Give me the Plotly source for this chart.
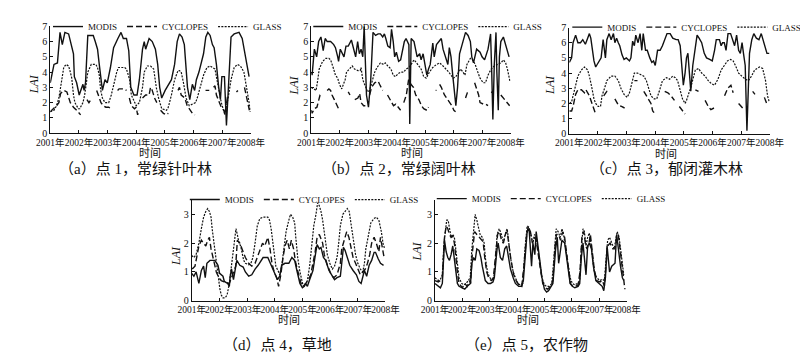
import plotly.graph_objects as go

GAP = (None, None)

YEARS = [2001, 2002, 2003, 2004, 2005, 2006, 2007, 2008]
YEAR_LABELS = ["2001年", "2002年", "2003年", "2004年", "2005年", "2006年", "2007年", "2008年"]
SERIES_NAMES = ["MODIS", "CYCLOPES", "GLASS"]
X_TITLE = "时间"
Y_TITLE = "<i>LAI</i>"
CAPTIONS = ["（a）点 1，常绿针叶林", "（b）点 2，常绿阔叶林", "（c）点 3，郁闭灌木林",
            "（d）点 4，草地", "（e）点 5，农作物"]

# ---------------- panel (a) ----------------
A_MODIS = [(2001.00, 3.3), (2001.08, 4.0), (2001.13, 4.5), (2001.25, 4.6), (2001.34, 6.6), (2001.42, 5.8),
           (2001.51, 6.6), (2001.64, 6.5), (2001.70, 6.0), (2001.81, 5.2), (2001.84, 3.7), (2001.92, 3.3),
           (2002.01, 2.5), (2002.09, 3.0), (2002.14, 3.2), (2002.18, 2.8), (2002.23, 3.3), (2002.31, 6.4),
           (2002.50, 6.4), (2002.57, 6.0), (2002.65, 5.5), (2002.71, 4.5), (2002.76, 3.5), (2002.82, 2.8),
           (2002.91, 3.5), (2002.99, 3.3), (2003.10, 4.3), (2003.21, 5.6), (2003.36, 6.2), (2003.47, 6.6),
           (2003.55, 6.2), (2003.66, 6.2), (2003.74, 5.4), (2003.81, 3.0), (2003.92, 2.5), (2004.03, 2.5),
           (2004.11, 3.5), (2004.22, 5.5), (2004.28, 6.0), (2004.33, 5.5), (2004.45, 6.2), (2004.56, 6.0),
           (2004.67, 5.5), (2004.75, 4.5), (2004.82, 3.0), (2004.89, 2.3), (2005.01, 2.8), (2005.12, 3.2),
           (2005.23, 3.5), (2005.34, 4.5), (2005.43, 6.0), (2005.51, 6.5), (2005.60, 6.3), (2005.68, 5.8),
           (2005.74, 4.5), (2005.79, 3.0), (2005.87, 2.2), (2005.96, 3.2), (2006.04, 2.8), (2006.10, 3.5),
           (2006.19, 4.0), (2006.27, 4.6), (2006.35, 5.2), (2006.43, 6.3), (2006.50, 6.6), (2006.58, 6.4),
           (2006.66, 5.8), (2006.72, 5.6), (2006.80, 4.5), (2006.88, 3.0), (2006.94, 2.2), (2006.99, 3.7),
           (2007.08, 3.7), (2007.15, 0.5), (2007.20, 2.3), (2007.25, 5.0), (2007.31, 6.3), (2007.42, 6.5),
           (2007.53, 6.6), (2007.59, 6.6), (2007.70, 6.2), (2007.76, 5.5), (2007.87, 4.5), (2007.94, 3.7)]
A_CYCLOPES = [(2001.00, 1.4), (2001.13, 1.6), (2001.22, 1.8), (2001.30, 2.0), (2001.36, 2.6), (2001.47, 2.8),
              (2001.58, 2.7), (2001.70, 2.0), (2001.81, 1.7), (2001.92, 1.5), (2002.01, 1.3), (2002.06, 1.2), GAP,
              (2002.28, 2.2), (2002.35, 2.0), (2002.42, 2.2), GAP,
              (2002.62, 2.8), (2002.70, 2.4), (2002.77, 2.0), (2002.85, 1.8), (2002.94, 1.7), (2003.04, 1.7),
              (2003.12, 1.6), GAP,
              (2003.35, 2.8), (2003.40, 2.9), (2003.50, 2.9), (2003.60, 2.9), (2003.66, 2.8), GAP,
              (2003.76, 2.3), (2003.83, 1.8), (2003.94, 1.6), (2004.00, 1.7), (2004.05, 1.2), (2004.10, 1.5), GAP,
              (2004.22, 2.3), (2004.33, 2.5), (2004.45, 2.5), (2004.50, 3.0), (2004.56, 2.8), (2004.64, 2.3),
              (2004.72, 2.0), GAP,
              (2004.85, 1.5), (2004.95, 1.3), (2005.05, 1.2), (2005.12, 1.3), GAP,
              (2005.46, 2.8), (2005.51, 3.0), (2005.57, 2.5), (2005.70, 2.3), (2005.78, 1.8), (2005.88, 1.5),
              (2005.96, 1.3), (2006.05, 1.2), GAP,
              (2006.42, 2.8), (2006.55, 2.8), GAP,
              (2006.70, 3.0), (2006.75, 3.1), (2006.80, 2.5), (2006.90, 2.0), (2006.97, 1.7), (2007.06, 1.5),
              (2007.10, 1.2), (2007.18, 2.3), (2007.25, 2.2), GAP,
              (2007.50, 2.7), (2007.55, 2.8), GAP,
              (2007.78, 3.0), (2007.84, 2.5), (2007.90, 2.0), (2007.95, 1.5)]
A_GLASS = [(2001.00, 1.4), (2001.13, 1.5), (2001.22, 1.8), (2001.30, 2.3), (2001.36, 3.0), (2001.42, 3.8),
           (2001.47, 4.3), (2001.55, 4.5), (2001.64, 4.4), (2001.70, 4.0), (2001.75, 3.6), (2001.81, 2.5),
           (2001.86, 2.0), (2001.98, 1.6), (2002.03, 1.6), (2002.14, 2.0), (2002.20, 2.5), (2002.26, 3.3),
           (2002.31, 4.0), (2002.43, 4.5), (2002.59, 4.5), (2002.65, 4.3), (2002.71, 3.8), (2002.76, 2.8),
           (2002.82, 2.3), (2002.91, 2.0), (2003.04, 2.0), (2003.13, 2.5), (2003.21, 3.2), (2003.32, 4.0),
           (2003.38, 4.3), (2003.60, 4.3), (2003.66, 4.2), (2003.77, 3.5), (2003.83, 2.5), (2003.94, 2.0),
           (2004.00, 1.8), (2004.11, 2.0), (2004.22, 3.0), (2004.28, 4.0), (2004.39, 4.4), (2004.50, 4.4),
           (2004.61, 4.2), (2004.70, 3.0), (2004.78, 2.3), (2004.89, 1.6), (2005.06, 1.5), (2005.12, 1.7),
           (2005.23, 2.5), (2005.34, 3.5), (2005.46, 4.1), (2005.51, 4.1), (2005.57, 4.0), (2005.65, 3.3),
           (2005.74, 2.3), (2005.85, 1.8), (2005.96, 1.9), (2006.07, 2.0), (2006.13, 2.3), (2006.24, 3.0),
           (2006.35, 3.8), (2006.47, 4.3), (2006.58, 4.4), (2006.75, 4.2), (2006.86, 3.0), (2006.97, 2.0),
           (2007.08, 1.3), (2007.20, 2.2), (2007.31, 3.5), (2007.42, 4.3), (2007.53, 4.5), (2007.64, 4.4),
           (2007.76, 4.0), (2007.81, 3.5), (2007.89, 2.5), (2007.94, 2.0), (2007.98, 1.4)]

# ---------------- panel (b) ----------------
B_MODIS = [(2001.00, 4.0), (2001.03, 3.8), (2001.11, 5.5), (2001.19, 5.0), (2001.26, 6.0), (2001.34, 6.3),
           (2001.42, 5.4), (2001.49, 6.2), (2001.56, 6.0), (2001.68, 6.0), (2001.79, 5.8), (2001.85, 5.6),
           (2001.93, 5.0), (2001.96, 4.7), (2002.02, 5.5), (2002.09, 5.2), (2002.15, 5.0), (2002.22, 5.7),
           (2002.30, 5.7), (2002.41, 6.1), (2002.49, 5.5), (2002.56, 5.0), (2002.63, 6.0), (2002.69, 5.2),
           (2002.75, 5.5), (2002.81, 5.0), (2002.86, 7.0), (2002.94, 2.5), (2003.01, 1.7), (2003.09, 3.5),
           (2003.17, 6.6), (2003.26, 6.4), (2003.35, 6.5), (2003.43, 6.5), (2003.51, 6.3), (2003.57, 6.5),
           (2003.62, 6.2), (2003.69, 5.7), (2003.77, 5.6), (2003.82, 6.8), (2003.88, 6.0), (2003.93, 5.0),
           (2003.99, 5.3), (2004.07, 4.7), (2004.14, 4.8), (2004.22, 5.5), (2004.27, 6.0), (2004.33, 6.2),
           (2004.39, 6.0), (2004.43, 5.8), (2004.46, 0.6), (2004.51, 6.2), (2004.61, 6.0), (2004.67, 5.5),
           (2004.72, 5.0), (2004.81, 5.2), (2004.86, 4.8), (2004.93, 5.2), (2005.01, 4.2), (2005.06, 3.8),
           (2005.12, 4.2), (2005.18, 4.5), (2005.27, 5.9), (2005.32, 5.0), (2005.40, 5.8), (2005.49, 6.0),
           (2005.57, 6.2), (2005.63, 5.5), (2005.72, 5.0), (2005.80, 4.5), (2005.85, 5.6), (2005.91, 5.0),
           (2005.97, 3.8), (2006.05, 2.0), (2006.08, 1.8), (2006.14, 3.0), (2006.21, 5.2), (2006.30, 5.8),
           (2006.42, 6.6), (2006.51, 6.4), (2006.59, 6.0), (2006.64, 5.0), (2006.70, 4.6), (2006.81, 5.5),
           (2006.93, 5.3), (2007.00, 5.0), (2007.09, 4.8), (2007.21, 5.5), (2007.30, 6.5), (2007.34, 4.0),
           (2007.38, 0.9), (2007.43, 4.5), (2007.49, 6.6), (2007.52, 4.0), (2007.57, 1.5), (2007.61, 5.0),
           (2007.66, 6.0), (2007.75, 6.3), (2007.83, 5.8), (2007.92, 5.2), (2007.95, 5.0)]
B_CYCLOPES = [(2001.00, 1.5), (2001.03, 1.3), (2001.11, 1.6), (2001.20, 1.7), (2001.31, 2.5), (2001.39, 2.6), GAP,
              (2001.56, 2.8), (2001.62, 2.9), (2001.68, 2.8), (2001.73, 2.5), (2001.81, 2.2), (2001.90, 1.8),
              (2001.96, 1.6), (2002.02, 1.5), GAP,
              (2002.30, 2.7), (2002.36, 2.5), GAP,
              (2002.53, 2.2), (2002.64, 2.3), (2002.70, 2.6), (2002.75, 2.0), (2002.84, 1.8), (2002.90, 1.8), GAP,
              (2003.05, 2.5), (2003.12, 3.0), (2003.23, 3.3), (2003.35, 3.4), (2003.40, 3.2), (2003.51, 2.8), GAP,
              (2003.68, 2.5), (2003.80, 2.1), (2003.89, 1.8), (2003.97, 1.9), (2004.05, 1.7), (2004.14, 1.5), GAP,
              (2004.25, 2.0), (2004.34, 2.5), (2004.42, 3.5), (2004.50, 3.2), (2004.59, 3.0), (2004.67, 2.5),
              (2004.78, 2.2), (2004.87, 1.8), (2004.95, 1.6), (2005.06, 1.5), (2005.12, 1.7), GAP,
              (2005.37, 2.8), (2005.40, 2.8), GAP,
              (2005.51, 3.2), (2005.57, 3.0), (2005.68, 2.5), (2005.79, 2.2), (2005.85, 2.0), (2005.94, 1.8),
              (2006.01, 1.5), (2006.07, 1.4), GAP,
              (2006.42, 2.3), (2006.51, 2.8), GAP,
              (2006.74, 3.3), (2006.79, 3.0), (2006.88, 2.5), (2006.93, 2.0), (2007.05, 1.9), (2007.13, 1.9),
              (2007.21, 1.8), GAP,
              (2007.32, 2.7), (2007.41, 2.6), GAP,
              (2007.66, 2.5), (2007.79, 2.2), (2007.88, 2.0), (2007.97, 1.8)]
B_GLASS = [(2001.00, 3.0), (2001.11, 2.9), (2001.17, 2.8), (2001.23, 3.5), (2001.28, 4.2), (2001.40, 4.7),
           (2001.51, 4.9), (2001.62, 4.9), (2001.68, 4.8), (2001.77, 4.3), (2001.85, 3.8), (2001.93, 3.6),
           (2001.99, 3.2), (2002.07, 2.9), (2002.19, 3.5), (2002.24, 4.0), (2002.35, 4.2), (2002.44, 4.4),
           (2002.52, 4.2), (2002.64, 4.1), (2002.72, 4.1), (2002.75, 4.3), (2002.81, 3.5), (2002.90, 3.0),
           (2002.98, 2.7), (2003.05, 2.8), (2003.14, 3.5), (2003.23, 4.0), (2003.31, 4.3), (2003.43, 4.6),
           (2003.54, 4.5), (2003.60, 4.6), (2003.69, 4.4), (2003.80, 4.2), (2003.88, 3.8), (2003.96, 3.7),
           (2004.05, 3.9), (2004.14, 4.0), (2004.25, 4.0), (2004.33, 4.2), (2004.44, 4.3), (2004.50, 4.5),
           (2004.61, 4.8), (2004.70, 4.6), (2004.78, 4.4), (2004.86, 4.2), (2004.95, 3.7), (2005.04, 3.6),
           (2005.15, 4.0), (2005.27, 4.3), (2005.40, 4.5), (2005.51, 4.6), (2005.63, 4.4), (2005.74, 4.2),
           (2005.83, 4.0), (2005.91, 3.8), (2005.99, 3.6), (2006.08, 3.7), (2006.17, 4.0), (2006.25, 4.2),
           (2006.33, 4.0), (2006.40, 3.8), (2006.47, 4.5), (2006.59, 4.9), (2006.67, 4.8), (2006.76, 4.5),
           (2006.85, 4.0), (2006.93, 3.6), (2007.04, 3.3), (2007.12, 3.3), (2007.21, 3.8), (2007.32, 4.2),
           (2007.43, 4.4), (2007.55, 4.5), (2007.66, 4.6), (2007.75, 4.8), (2007.83, 4.6), (2007.89, 4.2),
           (2007.94, 3.8), (2007.98, 3.4)]

# ---------------- panel (c) ----------------
C_MODIS = [(2001.00, 4.7), (2001.08, 5.0), (2001.13, 6.0), (2001.22, 6.5), (2001.30, 6.0), (2001.39, 6.0),
           (2001.47, 6.2), (2001.56, 5.9), (2001.64, 6.3), (2001.70, 6.6), (2001.75, 6.3), (2001.81, 5.5),
           (2001.86, 4.8), (2001.92, 4.4), (2001.98, 4.6), (2002.05, 4.8), (2002.11, 5.0), (2002.18, 6.2),
           (2002.26, 5.0), (2002.31, 6.2), (2002.39, 6.6), (2002.46, 6.2), (2002.54, 6.6), (2002.59, 6.0),
           (2002.65, 6.3), (2002.71, 6.0), (2002.76, 5.8), (2002.84, 5.2), (2002.91, 4.9), (2002.99, 5.0),
           (2003.10, 4.8), (2003.15, 5.0), (2003.21, 6.1), (2003.27, 5.8), (2003.32, 6.5), (2003.40, 6.0),
           (2003.47, 6.6), (2003.53, 5.5), (2003.58, 6.6), (2003.66, 5.5), (2003.72, 5.5), (2003.81, 5.0),
           (2003.88, 4.7), (2003.94, 4.8), (2004.00, 4.5), (2004.08, 5.5), (2004.17, 5.5), (2004.25, 5.8),
           (2004.33, 6.2), (2004.41, 6.6), (2004.52, 6.6), (2004.61, 6.3), (2004.73, 6.2), (2004.80, 6.2),
           (2004.87, 5.8), (2004.93, 4.5), (2004.98, 3.2), (2005.04, 4.0), (2005.09, 5.0), (2005.14, 5.3),
           (2005.20, 4.0), (2005.24, 2.8), (2005.31, 4.5), (2005.38, 5.5), (2005.46, 6.5), (2005.53, 6.3),
           (2005.62, 6.0), (2005.71, 5.3), (2005.79, 5.0), (2005.90, 4.9), (2005.99, 4.8), (2006.07, 5.5),
           (2006.13, 6.2), (2006.24, 6.2), (2006.30, 5.8), (2006.35, 6.0), (2006.41, 6.0), (2006.47, 5.5),
           (2006.54, 6.6), (2006.63, 6.6), (2006.69, 6.2), (2006.77, 5.8), (2006.84, 6.5), (2006.91, 5.5),
           (2006.97, 5.3), (2007.03, 6.0), (2007.08, 5.3), (2007.14, 4.5), (2007.20, 0.2), (2007.25, 4.0),
           (2007.29, 5.3), (2007.37, 6.2), (2007.44, 6.6), (2007.53, 6.3), (2007.62, 6.2), (2007.70, 6.6),
           (2007.76, 6.2), (2007.85, 5.5), (2007.90, 5.3), (2007.98, 5.3)]
C_CYCLOPES = [(2001.00, 1.5), (2001.08, 1.5), (2001.13, 1.8), (2001.22, 2.6), (2001.30, 2.9), (2001.42, 2.9),
              (2001.53, 2.7), (2001.58, 2.9), (2001.70, 2.5), (2001.79, 2.0), (2001.86, 1.5), (2001.92, 1.3), GAP,
              (2002.20, 2.5), (2002.31, 2.8), (2002.42, 2.7), GAP,
              (2002.59, 2.3), (2002.71, 1.9), (2002.82, 1.8), (2002.93, 1.7), GAP,
              (2003.27, 3.5), (2003.38, 3.5), GAP,
              (2003.60, 2.8), (2003.70, 2.5), (2003.85, 2.0), (2003.91, 1.5), (2004.00, 1.3), GAP,
              (2004.33, 2.8), (2004.44, 2.7), (2004.55, 2.5), (2004.67, 2.2), GAP,
              (2004.84, 1.8), (2004.95, 1.5), (2005.04, 1.3), GAP,
              (2005.40, 2.9), (2005.51, 2.8), GAP,
              (2005.74, 2.2), (2005.85, 1.8), (2005.94, 1.6), (2006.05, 1.7), GAP,
              (2006.42, 2.5), (2006.53, 3.0), (2006.64, 3.2), (2006.72, 2.7), GAP,
              (2006.91, 2.0), (2007.02, 1.8), (2007.10, 1.6), GAP,
              (2007.40, 2.8), (2007.48, 2.6), GAP,
              (2007.81, 2.4), (2007.89, 2.0)]
C_GLASS = [(2001.00, 2.0), (2001.08, 2.1), (2001.13, 2.5), (2001.19, 3.0), (2001.30, 3.8), (2001.42, 4.2),
           (2001.53, 4.4), (2001.64, 4.2), (2001.70, 3.8), (2001.79, 3.0), (2001.86, 2.3), (2001.92, 2.0),
           (2002.01, 1.8), (2002.09, 1.8), (2002.14, 2.5), (2002.23, 3.0), (2002.31, 3.5), (2002.46, 3.8),
           (2002.59, 3.8), (2002.71, 3.5), (2002.80, 3.0), (2002.91, 2.6), (2003.02, 2.4), (2003.10, 2.7),
           (2003.19, 3.5), (2003.27, 4.0), (2003.38, 4.0), (2003.49, 3.9), (2003.60, 3.8), (2003.69, 3.5),
           (2003.77, 3.0), (2003.85, 2.5), (2003.96, 2.3), (2004.05, 2.3), (2004.14, 2.8), (2004.25, 3.5),
           (2004.39, 3.7), (2004.50, 3.6), (2004.61, 3.8), (2004.70, 3.7), (2004.78, 3.5), (2004.84, 3.0),
           (2004.95, 2.3), (2005.04, 2.0), (2005.09, 2.2), (2005.23, 3.0), (2005.29, 3.5), (2005.40, 4.2),
           (2005.51, 4.3), (2005.62, 4.0), (2005.74, 3.8), (2005.85, 3.5), (2005.96, 3.3), (2006.07, 3.2),
           (2006.19, 3.6), (2006.30, 4.2), (2006.41, 4.5), (2006.52, 4.8), (2006.63, 4.9), (2006.72, 4.8),
           (2006.80, 4.5), (2006.91, 4.0), (2007.02, 3.8), (2007.14, 3.6), (2007.25, 3.5), (2007.36, 3.8),
           (2007.47, 4.2), (2007.64, 4.4), (2007.75, 4.3), (2007.85, 3.5), (2007.92, 2.5), (2007.98, 2.1)]

# ---------------- panel (d) ----------------
D_MODIS = [(2001.00, 0.95), (2001.08, 0.85), (2001.16, 1.0), (2001.26, 0.6), (2001.35, 1.05), (2001.43, 1.2),
           (2001.49, 0.8), (2001.55, 1.3), (2001.66, 1.4), (2001.84, 1.4), (2001.95, 1.23), (2002.01, 0.95),
           (2002.13, 0.85), (2002.18, 0.67), (2002.30, 0.6), (2002.36, 0.5), (2002.39, 0.85), (2002.44, 1.1),
           (2002.51, 0.73), (2002.56, 1.05), (2002.63, 1.4), (2002.74, 1.23), (2002.86, 1.17), (2002.94, 1.0),
           (2003.06, 0.85), (2003.17, 0.9), (2003.29, 1.1), (2003.40, 1.23), (2003.58, 1.5), (2003.75, 1.5),
           (2003.87, 1.23), (2003.93, 1.05), (2004.02, 0.85), (2004.10, 0.73), (2004.18, 0.85), (2004.25, 1.23),
           (2004.37, 1.3), (2004.51, 1.3), (2004.62, 1.5), (2004.72, 1.4), (2004.80, 1.05), (2004.91, 0.6),
           (2005.00, 0.45), (2005.07, 0.5), (2005.11, 0.6), (2005.18, 0.5), (2005.26, 0.73), (2005.38, 1.05),
           (2005.46, 1.55), (2005.53, 1.95), (2005.61, 1.8), (2005.67, 1.85), (2005.76, 1.5), (2005.84, 1.4),
           (2005.96, 1.05), (2006.08, 0.85), (2006.16, 0.73), (2006.25, 0.8), (2006.37, 0.85), (2006.42, 1.3),
           (2006.48, 1.85), (2006.54, 1.75), (2006.62, 1.5), (2006.71, 1.23), (2006.83, 1.05), (2006.95, 0.9),
           (2007.04, 0.67), (2007.12, 0.6), (2007.24, 1.05), (2007.32, 0.85), (2007.41, 1.23), (2007.50, 1.4),
           (2007.59, 1.68), (2007.64, 1.68), (2007.74, 1.45), (2007.82, 1.3), (2007.93, 1.23)]
D_CYCLOPES = [(2001.02, 1.1), (2001.12, 1.2), (2001.20, 1.6), (2001.26, 1.9), (2001.35, 2.1), (2001.43, 2.0),
              (2001.51, 1.9), (2001.58, 2.1), (2001.64, 2.2), (2001.70, 1.8), (2001.81, 1.3), (2001.89, 1.0),
              (2001.98, 0.8), (2002.07, 0.7), (2002.18, 0.65), (2002.30, 0.6), (2002.36, 0.6), (2002.44, 0.8),
              (2002.51, 1.0), (2002.59, 1.2), (2002.65, 2.1), (2002.74, 2.0), (2002.82, 1.8), (2002.94, 1.5),
              (2003.06, 1.3), (2003.17, 1.2), (2003.29, 1.3), (2003.40, 1.6), (2003.49, 1.8), (2003.56, 2.0),
              (2003.64, 1.9), (2003.75, 2.2), (2003.83, 1.8), (2003.90, 1.3), (2003.98, 1.0), (2004.07, 0.8),
              (2004.14, 0.5), (2004.22, 0.9), (2004.30, 1.5), (2004.37, 1.9), (2004.45, 2.1), (2004.53, 1.8),
              (2004.60, 2.1), (2004.68, 1.8), (2004.76, 1.3), (2004.86, 0.9), (2004.95, 0.6), (2005.03, 0.5),
              (2005.11, 0.6), (2005.20, 0.7), (2005.30, 0.9), (2005.38, 1.3), (2005.46, 1.7), (2005.53, 2.2),
              (2005.61, 2.3), (2005.73, 2.0), (2005.79, 1.6), (2005.88, 1.3), (2005.96, 1.1), (2006.04, 0.9),
              (2006.13, 0.8), (2006.25, 0.9), (2006.37, 1.3), (2006.42, 1.8), (2006.51, 2.1), (2006.60, 2.4),
              (2006.68, 2.2), (2006.75, 1.8), (2006.83, 1.5), (2006.92, 1.3), (2007.00, 1.1), (2007.09, 0.9),
              (2007.18, 1.0), (2007.27, 1.1), (2007.35, 1.3), (2007.43, 1.6), (2007.50, 2.0), (2007.59, 2.2),
              (2007.67, 2.0), (2007.76, 1.7), (2007.82, 2.2), (2007.88, 1.8), (2007.95, 1.5)]
D_GLASS = [(2001.00, 1.57), (2001.08, 1.5), (2001.16, 1.6), (2001.26, 2.0), (2001.35, 2.5), (2001.43, 2.9),
           (2001.51, 3.1), (2001.58, 3.2), (2001.64, 3.1), (2001.70, 2.9), (2001.74, 2.5), (2001.81, 2.0),
           (2001.86, 1.5), (2001.93, 1.0), (2001.98, 0.6), (2002.02, 0.4), (2002.07, 0.2), (2002.13, 0.1),
           (2002.21, 0.1), (2002.28, 0.2), (2002.36, 0.6), (2002.44, 1.2), (2002.51, 1.8), (2002.56, 2.3),
           (2002.60, 2.5), (2002.65, 2.3), (2002.71, 2.0), (2002.77, 1.9), (2002.82, 1.6), (2002.88, 1.4),
           (2002.94, 1.3), (2003.06, 1.25), (2003.14, 1.3), (2003.21, 1.5), (2003.29, 2.0), (2003.37, 2.6),
           (2003.46, 2.85), (2003.58, 2.9), (2003.75, 2.9), (2003.81, 2.8), (2003.87, 2.5), (2003.93, 2.0),
           (2003.98, 1.5), (2004.04, 1.2), (2004.14, 1.0), (2004.18, 0.9), (2004.25, 1.2), (2004.33, 1.8),
           (2004.41, 2.4), (2004.51, 2.8), (2004.57, 3.0), (2004.65, 2.9), (2004.72, 2.7), (2004.76, 2.2),
           (2004.83, 1.5), (2004.91, 1.0), (2004.97, 0.7), (2005.03, 0.5), (2005.11, 0.55), (2005.18, 0.7),
           (2005.26, 1.2), (2005.34, 2.0), (2005.41, 2.6), (2005.49, 3.0), (2005.55, 3.4), (2005.61, 3.3),
           (2005.67, 3.1), (2005.73, 2.8), (2005.81, 2.2), (2005.90, 1.6), (2005.99, 1.3), (2006.08, 1.1),
           (2006.16, 1.2), (2006.25, 1.5), (2006.31, 2.0), (2006.37, 2.6), (2006.46, 3.0), (2006.54, 3.1),
           (2006.62, 3.2), (2006.69, 3.1), (2006.77, 2.6), (2006.85, 2.0), (2006.92, 1.6), (2007.00, 1.3),
           (2007.09, 1.1), (2007.18, 1.0), (2007.24, 1.3), (2007.29, 1.8), (2007.39, 2.3), (2007.47, 2.7),
           (2007.58, 2.85), (2007.67, 2.9), (2007.76, 2.8), (2007.85, 2.4), (2007.91, 2.0), (2007.97, 1.8)]

# ---------------- panel (e) ----------------
E_MODIS = [(2001.00, 0.6), (2001.12, 0.5), (2001.20, 0.45), (2001.27, 0.6), (2001.35, 2.1), (2001.41, 1.7),
           (2001.47, 1.5), (2001.53, 1.4), (2001.59, 1.6), (2001.65, 1.9), (2001.71, 1.5), (2001.76, 1.0),
           (2001.82, 0.6), (2001.88, 0.5), (2002.00, 0.45), (2002.09, 0.4), (2002.18, 0.5), (2002.26, 0.55),
           (2002.30, 0.6), (2002.35, 1.3), (2002.41, 1.5), (2002.47, 1.4), (2002.53, 1.8), (2002.61, 1.75),
           (2002.68, 1.5), (2002.73, 1.2), (2002.80, 0.9), (2002.84, 0.7), (2002.94, 0.6), (2003.03, 0.6),
           (2003.12, 0.65), (2003.17, 0.8), (2003.27, 1.8), (2003.31, 2.0), (2003.39, 1.5), (2003.47, 1.4),
           (2003.55, 1.8), (2003.62, 1.9), (2003.69, 1.5), (2003.76, 1.1), (2003.86, 0.8), (2003.94, 0.6),
           (2004.06, 0.5), (2004.17, 0.5), (2004.23, 0.7), (2004.33, 2.0), (2004.37, 2.4), (2004.44, 2.5),
           (2004.53, 1.2), (2004.58, 2.0), (2004.65, 1.6), (2004.70, 2.4), (2004.76, 1.9), (2004.82, 1.4),
           (2004.91, 0.8), (2005.00, 0.4), (2005.08, 0.3), (2005.15, 0.35), (2005.23, 0.5), (2005.31, 0.6),
           (2005.41, 1.8), (2005.47, 2.2), (2005.52, 1.3), (2005.58, 1.8), (2005.64, 2.1), (2005.74, 2.0),
           (2005.82, 1.5), (2005.88, 1.0), (2005.94, 0.6), (2006.02, 0.5), (2006.11, 0.45), (2006.23, 0.5),
           (2006.29, 0.6), (2006.35, 1.5), (2006.41, 2.0), (2006.46, 1.5), (2006.52, 0.9), (2006.58, 1.9),
           (2006.64, 2.0), (2006.72, 1.8), (2006.79, 1.2), (2006.88, 0.7), (2006.99, 0.6), (2007.11, 0.5),
           (2007.17, 0.35), (2007.23, 0.8), (2007.29, 1.9), (2007.38, 1.0), (2007.46, 1.2), (2007.58, 1.3),
           (2007.64, 2.3), (2007.70, 1.8), (2007.78, 1.2), (2007.85, 0.8), (2007.90, 0.7)]
E_CYCLOPES = [(2001.00, 0.7), (2001.12, 0.65), (2001.20, 0.7), (2001.27, 0.8), (2001.35, 2.2), (2001.41, 2.6),
              (2001.47, 2.5), (2001.53, 2.3), (2001.59, 2.2), (2001.65, 2.25), (2001.71, 2.0), (2001.76, 1.5),
              (2001.82, 1.0), (2001.88, 0.6), (2002.00, 0.45), (2002.09, 0.6), (2002.18, 0.5), (2002.26, 0.7),
              (2002.30, 0.6), (2002.37, 1.7), (2002.45, 2.4), (2002.53, 2.3), (2002.61, 2.2), (2002.70, 2.1),
              (2002.76, 2.05), (2002.82, 1.5), (2002.89, 1.0), (2002.96, 0.8), (2003.06, 0.7), (2003.13, 0.75),
              (2003.22, 1.5), (2003.29, 2.3), (2003.36, 2.4), (2003.43, 2.1), (2003.50, 2.0), (2003.57, 2.3),
              (2003.64, 2.4), (2003.71, 1.9), (2003.78, 1.4), (2003.88, 0.9), (2003.97, 0.7), (2004.07, 0.55),
              (2004.17, 0.5), (2004.25, 1.2), (2004.35, 2.3), (2004.41, 2.55), (2004.49, 2.4), (2004.56, 2.0),
              (2004.63, 2.2), (2004.70, 2.1), (2004.77, 1.6), (2004.87, 1.0), (2004.94, 0.6), (2005.03, 0.45),
              (2005.11, 0.4), (2005.23, 0.5), (2005.31, 0.7), (2005.38, 1.8), (2005.44, 2.3), (2005.52, 2.3),
              (2005.59, 2.1), (2005.67, 2.4), (2005.74, 2.2), (2005.81, 1.6), (2005.88, 1.0), (2005.95, 0.6),
              (2006.04, 0.5), (2006.14, 0.5), (2006.23, 0.55), (2006.30, 1.0), (2006.37, 2.2), (2006.44, 2.4),
              (2006.51, 1.9), (2006.56, 1.8), (2006.63, 2.0), (2006.68, 2.3), (2006.75, 1.7), (2006.82, 1.1),
              (2006.91, 0.7), (2007.03, 0.65), (2007.12, 0.7), (2007.19, 0.5), (2007.26, 1.3), (2007.31, 1.9),
              (2007.40, 2.0), (2007.50, 1.8), (2007.58, 1.8), (2007.64, 2.2), (2007.70, 2.3), (2007.76, 1.8),
              (2007.83, 1.2), (2007.90, 0.6), (2007.94, 0.4)]
E_GLASS = [(2001.00, 0.8), (2001.12, 0.7), (2001.20, 0.75), (2001.27, 0.9), (2001.33, 2.0), (2001.39, 2.6),
           (2001.43, 2.8), (2001.48, 2.8), (2001.53, 2.5), (2001.59, 2.2), (2001.65, 2.3), (2001.71, 2.2),
           (2001.76, 1.8), (2001.82, 1.2), (2001.88, 0.8), (2001.98, 0.6), (2002.06, 0.55), (2002.14, 0.6),
           (2002.23, 0.7), (2002.29, 0.8), (2002.35, 1.8), (2002.41, 2.5), (2002.47, 3.0), (2002.53, 2.8),
           (2002.59, 2.5), (2002.65, 2.3), (2002.73, 2.2), (2002.80, 2.0), (2002.84, 1.5), (2002.92, 1.0),
           (2003.00, 0.8), (2003.08, 0.75), (2003.15, 0.8), (2003.20, 1.2), (2003.27, 2.3), (2003.35, 2.5),
           (2003.43, 2.3), (2003.50, 2.0), (2003.59, 2.4), (2003.64, 2.5), (2003.70, 2.0), (2003.76, 1.5),
           (2003.86, 1.0), (2003.94, 0.8), (2004.02, 0.6), (2004.11, 0.55), (2004.21, 0.6), (2004.29, 1.8),
           (2004.37, 2.6), (2004.44, 2.55), (2004.53, 2.2), (2004.58, 2.0), (2004.64, 2.3), (2004.70, 2.2),
           (2004.76, 1.8), (2004.84, 1.2), (2004.91, 0.8), (2005.00, 0.55), (2005.08, 0.5), (2005.17, 0.5),
           (2005.27, 0.6), (2005.35, 1.5), (2005.43, 2.5), (2005.50, 2.4), (2005.58, 2.2), (2005.64, 2.5),
           (2005.70, 2.3), (2005.78, 1.8), (2005.88, 1.2), (2005.94, 0.8), (2006.02, 0.6), (2006.11, 0.55),
           (2006.21, 0.6), (2006.29, 0.7), (2006.35, 1.8), (2006.41, 2.5), (2006.46, 2.4), (2006.52, 1.9),
           (2006.58, 2.2), (2006.64, 2.35), (2006.70, 2.0), (2006.76, 1.5), (2006.82, 1.0), (2006.91, 0.8),
           (2007.03, 0.7), (2007.11, 0.75), (2007.19, 0.7), (2007.26, 1.5), (2007.31, 2.1), (2007.38, 2.2),
           (2007.46, 2.0), (2007.55, 1.8), (2007.62, 2.2), (2007.66, 2.4), (2007.73, 2.2), (2007.78, 1.8),
           (2007.85, 1.2), (2007.90, 0.9)]

PANELS = [(A_MODIS, A_CYCLOPES, A_GLASS), (B_MODIS, B_CYCLOPES, B_GLASS), (C_MODIS, C_CYCLOPES, C_GLASS),
          (D_MODIS, D_CYCLOPES, D_GLASS), (E_MODIS, E_CYCLOPES, E_GLASS)]
Y_MAX = [7, 7, 7, 3.5, 3.5]

# layout (paper fractions of the 808x357 canvas)
X_DOMAINS = [(0.0363, 0.2937), (0.3713, 0.6271), (0.7026, 0.9600), (0.2178, 0.4666), (0.5301, 0.7760)]
Y_DOMAINS = [(0.6546, 0.9644), (0.6546, 0.9644), (0.6527, 0.9608), (0.1689, 0.4611), (0.1689, 0.4611)]
LEGEND_POS = [(0.0334, 0.9636), (0.3675, 0.9636), (0.7000, 0.9620), (0.2090, 0.4622), (0.5260, 0.4650)]
XTITLE_POS = [(0.1646, 0.5966), (0.5000, 0.5966), (0.8267, 0.5938), (0.3422, 0.1120), (0.6498, 0.1120)]
YTITLE_POS = [(0.0149, 0.7955), (0.3490, 0.7927), (0.6776, 0.7941), (0.1968, 0.2997), (0.5067, 0.3109)]
CAPTION_POS = [(0.146, 0.552), (0.484, 0.552), (0.827, 0.552), (0.328, 0.042), (0.647, 0.042)]

LATIN = "Liberation Serif, Noto Sans CJK SC, serif"
INK = "#111111"
STYLES = [dict(dash="solid", width=1.4), dict(dash="6px,3px", width=1.4), dict(dash="2px,1.3px", width=1.2)]

fig = go.Figure()


def split(pairs):
    return [p[0] for p in pairs], [p[1] for p in pairs]


for i, series in enumerate(PANELS):
    suffix = "" if i == 0 else str(i + 1)
    for name, pairs, st in zip(SERIES_NAMES, series, STYLES):
        t, v = split(pairs)
        fig.add_trace(go.Scatter(
            x=t, y=v, mode="lines", name=name,
            line=dict(color=INK, width=st["width"], dash=st["dash"]),
            connectgaps=False, xaxis="x" + suffix, yaxis="y" + suffix,
            legend="legend" + suffix, showlegend=True))

    fig.layout["xaxis" + suffix] = dict(
        domain=list(X_DOMAINS[i]), anchor="y" + suffix, range=[2001, 2008],
        tickmode="array", tickvals=YEARS, ticktext=YEAR_LABELS, tickangle=0,
        ticks="inside", ticklen=3, tickwidth=1, tickcolor=INK,
        showline=True, linecolor=INK, linewidth=1, showgrid=False, zeroline=False,
        tickfont=dict(family=LATIN, size=9.5, color=INK))
    fig.layout["yaxis" + suffix] = dict(
        domain=list(Y_DOMAINS[i]), anchor="x" + suffix, range=[0, Y_MAX[i]],
        tickmode="linear", tick0=0, dtick=1,
        ticks="inside", ticklen=3, tickwidth=1, tickcolor=INK,
        showline=True, linecolor=INK, linewidth=1, showgrid=False, zeroline=False,
        tickfont=dict(family=LATIN, size=10, color=INK))
    lx, ly = LEGEND_POS[i]
    fig.layout["legend" + suffix] = dict(
        x=lx, y=ly, xanchor="left", yanchor="middle", orientation="h",
        bgcolor="rgba(0,0,0,0)", borderwidth=0, itemwidth=30,
        font=dict(family=LATIN, size=9, color=INK))

    tx, ty = XTITLE_POS[i]
    fig.add_annotation(x=tx, y=ty, xref="paper", yref="paper", text=X_TITLE, showarrow=False,
                       font=dict(family=LATIN, size=11, color=INK), xanchor="center", yanchor="middle")
    yx, yy = YTITLE_POS[i]
    fig.add_annotation(x=yx, y=yy, xref="paper", yref="paper", text=Y_TITLE, showarrow=False,
                       textangle=-90, font=dict(family=LATIN, size=12, color=INK),
                       xanchor="center", yanchor="middle")
    cx, cy = CAPTION_POS[i]
    fig.add_annotation(x=cx, y=cy, xref="paper", yref="paper", text=CAPTIONS[i], showarrow=False,
                       font=dict(family=LATIN, size=15, color=INK), xanchor="center", yanchor="middle")

fig.update_layout(width=808, height=357, autosize=False,
                  margin=dict(l=0, r=0, t=0, b=0),
                  paper_bgcolor="white", plot_bgcolor="white", showlegend=True)

fig.write_html("out.html")
